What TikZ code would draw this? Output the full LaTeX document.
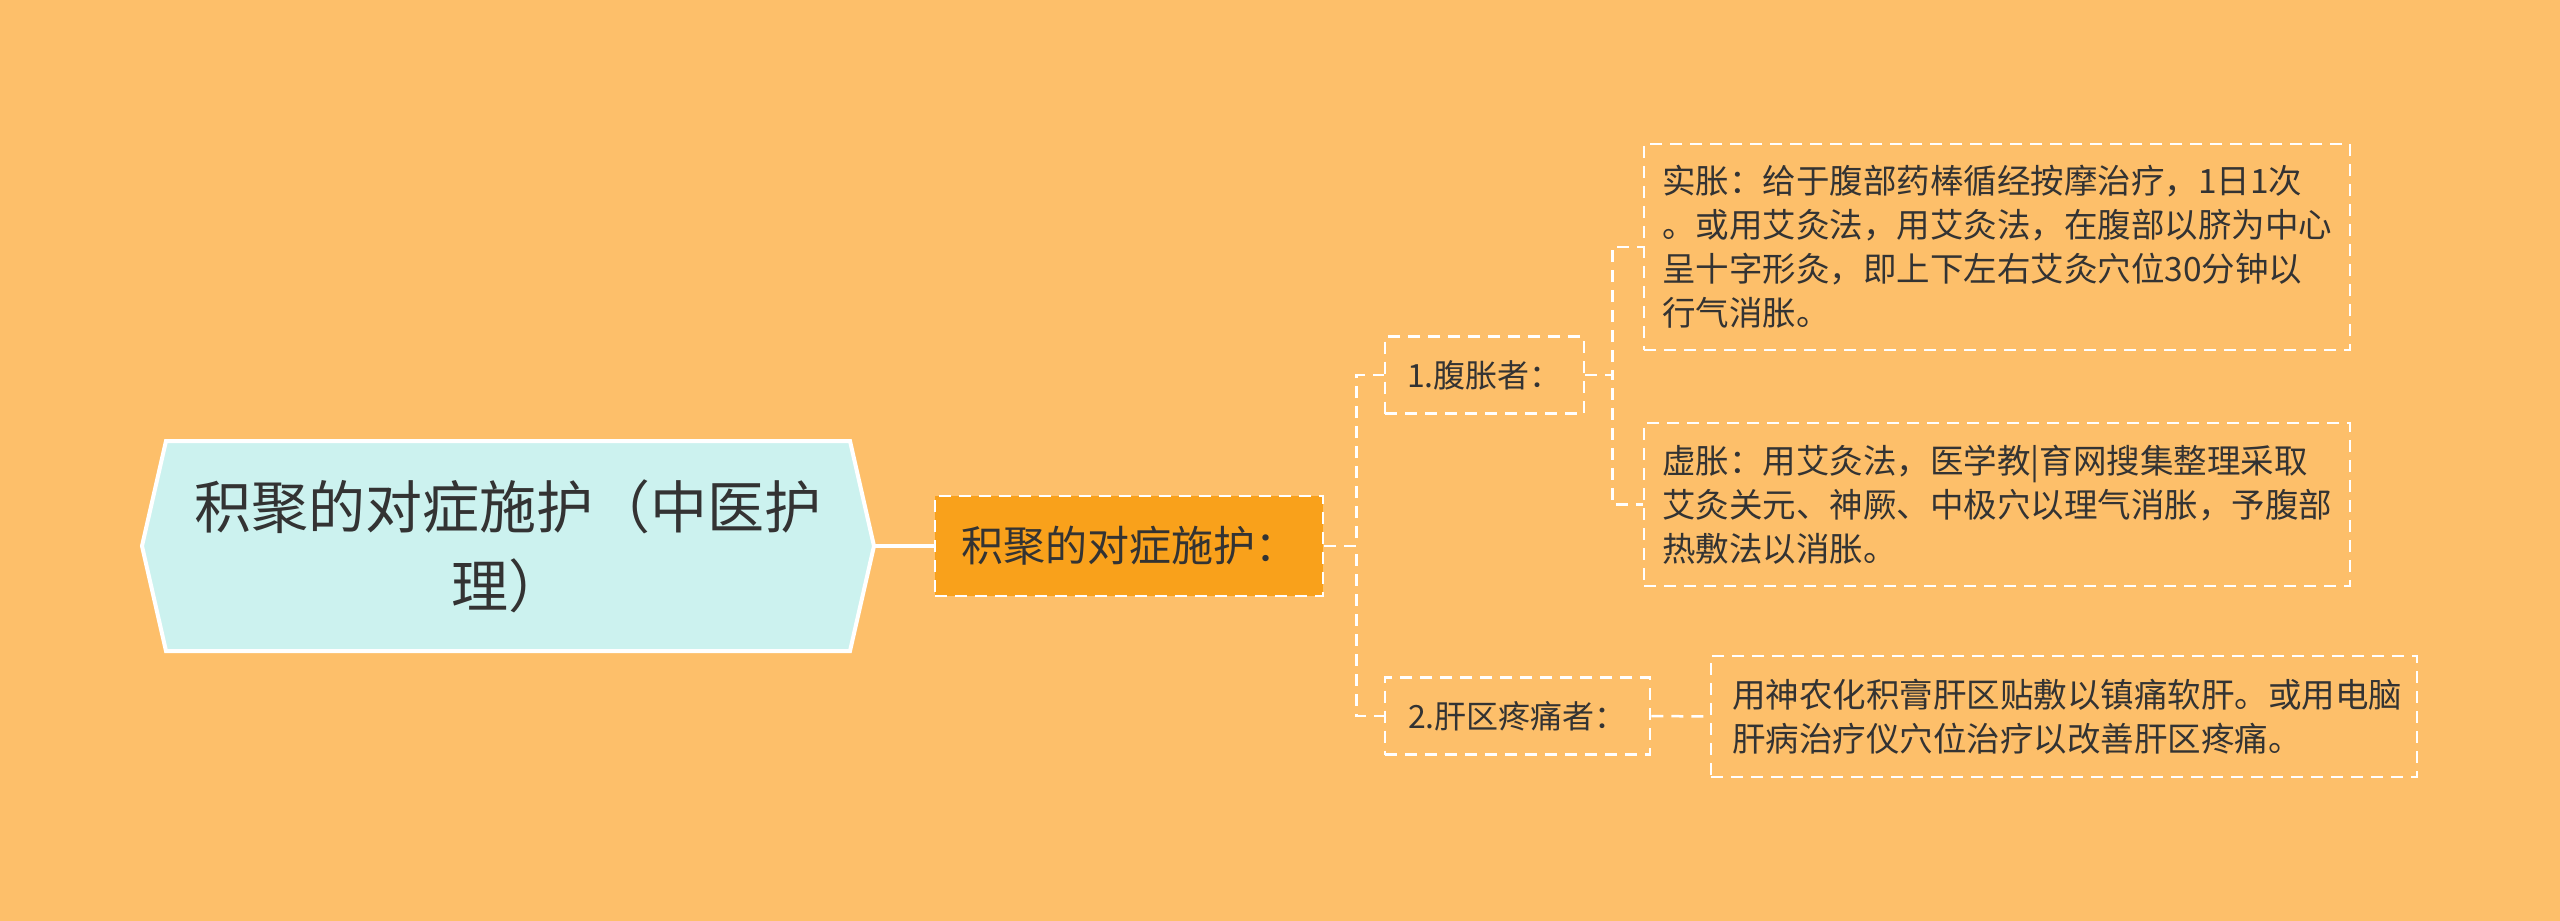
\documentclass[tikz,border=0pt]{standalone}
\usepackage{fontspec}
\newfontfamily\cjk{Noto Sans CJK SC}
\definecolor{bg}{HTML}{FDBF6A}
\definecolor{rootfill}{HTML}{CCF2EF}
\definecolor{mainfill}{HTML}{F9A11B}
\definecolor{txt}{HTML}{333333}
\tikzset{
 dashline/.style={draw=white, line width=2.5pt, dash pattern=on 12pt off 8pt},
 box/.style={dashline, inner sep=0pt, text=txt, align=center, font=\cjk\fontsize{32}{40}\selectfont},
 leaf/.style={dashline, inner xsep=18pt, inner ysep=0pt, text width=670pt, align=left, text=txt, font=\cjk\fontsize{33.5}{44}\selectfont},
 conn/.style={dashline},
 rootshape/.style={draw=white, line width=4pt, fill=rootfill, line join=miter},
 rootline/.style={draw=white, line width=4pt},
}
\begin{document}
\begin{tikzpicture}[x=1pt,y=-1pt]
\useasboundingbox (0,0) rectangle (2560,921);
\fill[bg] (0,0) rectangle (2560,921);
% root hexagon
\coordinate (hexL) at (142,546);
\coordinate (hexR) at (874,546);
\draw[rootshape] (166,441) -- (850,441) -- (hexR) -- (850,651) -- (166,651) -- (hexL) -- cycle;
\node[inner sep=0pt, text=txt, align=center, font=\cjk\fontsize{57}{79}\selectfont] (root) at (508,546) {积聚的对症施护（中医护\\理）};
% main node
\node[box, fill=mainfill, minimum width=388pt, minimum height=100pt, font=\cjk\fontsize{42}{50}\selectfont] (main) at (1129,546) {积聚的对症施护：};
% children
\node[box, minimum width=199pt, minimum height=77pt] (c1) at (1484.5,375) {1.腹胀者：};
\node[box, minimum width=265pt, minimum height=77pt] (c2) at (1517.5,716) {2.肝区疼痛者：};
% leaves
\node[leaf, minimum height=206pt] (l1) at (1997,247) {实胀：给于腹部药棒循经按摩治疗，1日1次\\。或用艾灸法，用艾灸法，在腹部以脐为中心\\呈十字形灸，即上下左右艾灸穴位30分钟以\\行气消胀。};
\node[leaf, minimum height=163pt] (l2) at (1997,504.5) {虚胀：用艾灸法，医学教|育网搜集整理采取\\艾灸关元、神厥、中极穴以理气消胀，予腹部\\热敷法以消胀。};
\node[leaf, minimum height=121pt, inner xsep=21pt, text width=664pt] (l3) at (2064,716.5) {用神农化积膏肝区贴敷以镇痛软肝。或用电脑\\肝病治疗仪穴位治疗以改善肝区疼痛。};
% connectors
\draw[rootline] (hexR) -- (main.west);
\draw[conn] (main.east) -- ++(32,0) |- (c1.west);
\draw[conn] (main.east) -- ++(32,0) |- (c2.west);
\draw[conn] (c1.east) -- ++(27,0) |- (l1.west);
\draw[conn] (c1.east) -- ++(27,0) |- (l2.west);
\draw[conn] (c2.east) -- (l3.west);
\end{tikzpicture}
\end{document}
